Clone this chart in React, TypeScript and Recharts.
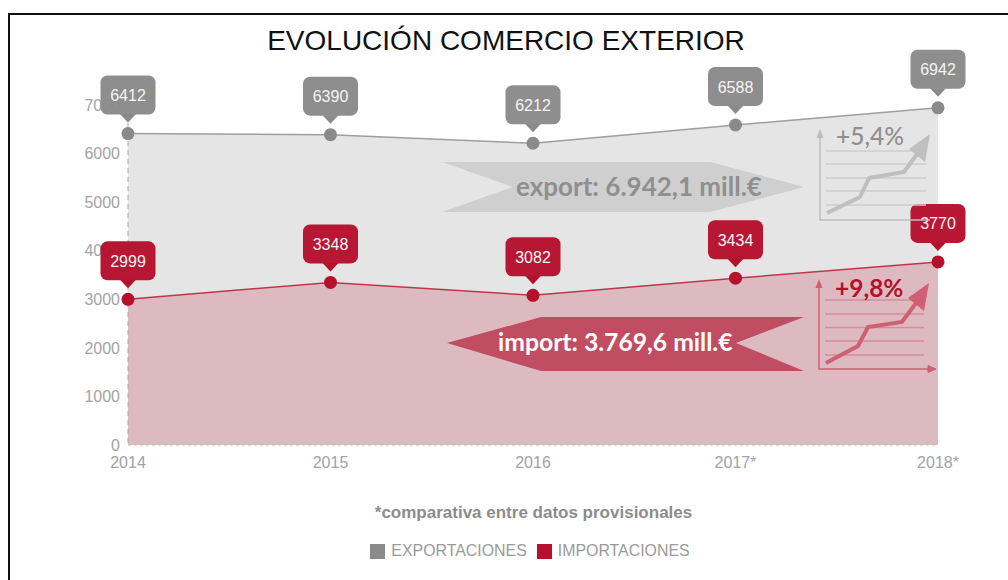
import { AreaChart, Area, XAxis, YAxis, LabelList, Legend } from "recharts";

const years = ["2014", "2015", "2016", "2017*", "2018*"];
const exportaciones = [6412, 6390, 6212, 6588, 6942];
const importaciones = [2999, 3348, 3082, 3434, 3770];
const yTicks = [0, 1000, 2000, 3000, 4000, 5000, 6000, 7000];

const GREY = "#8a8a8a";
const RED = "#b5102c";
const SANS = "'Liberation Sans', Arial, sans-serif";

const data = years.map((year, i) => ({
  year,
  EXPORTACIONES: exportaciones[i],
  IMPORTACIONES: importaciones[i],
}));

// speech bubble above each point
const bubble = (color: string) => (props: any) => {
  const { x, y, value } = props;
  const top = y - 58;
  const bottom = y - 19;
  return (
    <g>
      <rect x={x - 27.5} y={top} width={55} height={39} rx={7} fill={color} fillOpacity={0.97} />
      <path d={`M${x - 8} ${bottom - 0.5} L${x} ${bottom + 8} L${x + 8} ${bottom - 0.5} Z`} fill={color} />
      <text
        x={x}
        y={y - 38}
        textAnchor="middle"
        dominantBaseline="central"
        fill="#f4f4f4"
        fontSize={16}
        fontFamily={SANS}
      >
        {value}
      </text>
    </g>
  );
};

const Overlay = () => (
  <svg
    width={1008}
    height={580}
    style={{ position: "absolute", left: 0, top: 0, pointerEvents: "none" }}
  >
    <text x={506} y={50} textAnchor="middle" fontSize={28} fontFamily={SANS} fill="#111">
      EVOLUCIÓN COMERCIO EXTERIOR
    </text>

    {/* export ribbon */}
    <path d="M442 162 L710 162 L804 187 L710 212 L442 212 L513 187 Z" fill="#cfcfcf" />
    <text x={516} y={196} fontSize={26} fontWeight={700} fontFamily="Lato" fill="#8f8f8f">
      export: 6.942,1 mill.€
    </text>

    {/* import ribbon */}
    <path d="M447 343 L541 317 L804 317 L736 343 L804 371 L541 371 Z" fill="#c14d62" />
    <text x={498} y={351} fontSize={24.7} fontWeight={700} fontFamily="Lato" fill="#fff">
      import: 3.769,6 mill.€
    </text>

    {/* export mini chart */}
    <g fill="none" stroke="#cdcdcd" strokeWidth={1.5}>
      <path d="M826 151H926M826 164H926M826 178H926M826 191H926M826 205H926" />
    </g>
    <path d="M820 134V220H930" fill="none" stroke="#bdbdbd" strokeWidth={1.5} />
    <path d="M820 129 L816.5 138 L823.5 138 Z" fill="#bdbdbd" />
    <path d="M827 213 L860 197 L869 178 L904 172 L923 146" fill="none" stroke="#bfbfbf" strokeWidth={4} />
    <path d="M930 134 L909 149 L925 162 Z" fill="#bfbfbf" />
    <text x={836} y={145} fontSize={24.5} fontWeight={500} fontFamily="Lato" fill="#8f8f8f">
      +5,4%
    </text>

    {/* import mini chart */}
    <g fill="none" stroke="#d98a98" strokeWidth={1.5}>
      <path d="M825 300H924M825 314H924M825 327.5H924M825 341H924M825 355H924" />
    </g>
    <path d="M819 284V369H930" fill="none" stroke="#cf5f72" strokeWidth={1.5} />
    <path d="M819 279 L815.5 288 L822.5 288 Z" fill="#cf5f72" />
    <path d="M927 369 L936 369 M928 365.5 L936 369 L928 372.5 Z" fill="#cf5f72" stroke="#cf5f72" />
    <path d="M826 363 L858 346 L868 327 L902 322 L922 295" fill="none" stroke="#cf5f72" strokeWidth={4} />
    <path d="M929 283 L908 298 L924 311 Z" fill="#cf5f72" />
    <text x={835} y={297} fontSize={24.5} fontWeight={700} fontFamily="Lato" fill={RED}>
      +9,8%
    </text>

    <text x={533.5} y={518} textAnchor="middle" fontSize={17} fontWeight={700} fontFamily={SANS} fill="#8c8c8c">
      *comparativa entre datos provisionales
    </text>
  </svg>
);

export default function App() {
  const tickStyle = { fontSize: 16, fontFamily: SANS, fill: "#a3a3a3" };
  return (
    <div style={{ position: "absolute", left: 0, top: 0, width: 1008, height: 580, overflow: "hidden", background: "#fff" }}>
      <div
        style={{
          position: "absolute",
          left: 8,
          top: 13,
          width: 1000,
          height: 567,
          boxSizing: "border-box",
          borderTop: "2px solid #111",
          borderLeft: "2px solid #111",
        }}
      />
      <AreaChart
        width={1008}
        height={580}
        data={data}
        margin={{ top: 105, right: 70, left: 8, bottom: 44 }}
        style={{ position: "absolute", left: 0, top: 0 }}
      >
        <XAxis
          dataKey="year"
          scale="point"
          padding={{ left: 0, right: 0 }}
          interval={0}
          tick={tickStyle}
          tickLine={false}
          tickMargin={6}
          stroke="#bdbdbd"
          strokeDasharray="3 3"
          height={73}
        />
        <YAxis
          width={120}
          domain={[0, 7000]}
          ticks={yTicks}
          tick={tickStyle}
          tickLine={false}
          tickMargin={2}
          stroke="#a8a8a8"
          strokeDasharray="5 4"
        />
        <Legend
          iconType="square"
          iconSize={15}
          verticalAlign="bottom"
          wrapperStyle={{ fontFamily: SANS, fontSize: 15.9, top: 542, left: 70, bottom: "auto" }}
          formatter={(value: string) => <span style={{ color: "#9a9a9a", marginLeft: 2 }}>{value}</span>}
        />
        <Area
          type="linear"
          dataKey="EXPORTACIONES"
          stroke={GREY}
          strokeOpacity={0.8}
          strokeWidth={1.5}
          fill="#e5e5e5"
          fillOpacity={1}
          dot={{ r: 6.5, fill: GREY, stroke: GREY, strokeWidth: 0, fillOpacity: 1, strokeOpacity: 1 }}
          isAnimationActive={false}
        >
          <LabelList dataKey="EXPORTACIONES" content={bubble(GREY)} />
        </Area>
        <Area
          type="linear"
          dataKey="IMPORTACIONES"
          stroke={RED}
          strokeOpacity={0.8}
          strokeWidth={1.5}
          fill="#dcbac0"
          fillOpacity={1}
          dot={{ r: 6.5, fill: RED, stroke: RED, strokeWidth: 0, fillOpacity: 1, strokeOpacity: 1 }}
          isAnimationActive={false}
        >
          <LabelList dataKey="IMPORTACIONES" content={bubble(RED)} />
        </Area>
      </AreaChart>
      <Overlay />
    </div>
  );
}
